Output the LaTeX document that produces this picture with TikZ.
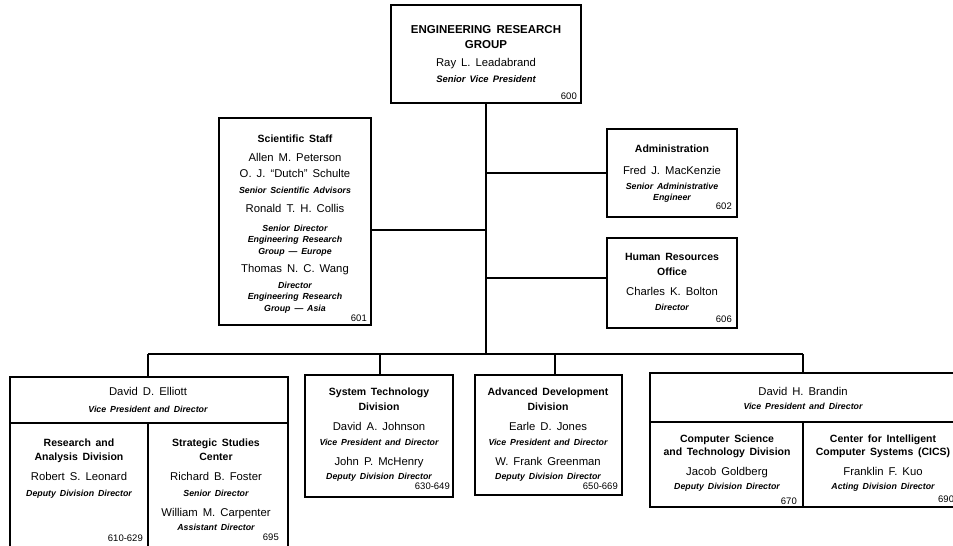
\documentclass[tikz,border=0pt]{standalone}
\usepackage{fontspec}
\setmainfont{Liberation Sans}[WordSpace=1.6]
\begin{document}
\begin{tikzpicture}[x=1pt,y=-1pt,
  box/.style={draw, line width=1.7pt, outer sep=0pt, inner sep=0pt},
  divline/.style={line width=1.5pt},
  conn/.style={line width=1.1pt},
  txt/.style={inner sep=0pt, anchor=mid},
  hd/.style={txt, font=\fontsize{10.5}{12}\selectfont\bfseries},
  bighd/.style={txt, font=\fontsize{11.5}{13}\selectfont\bfseries},
  nm/.style={txt, font=\fontsize{11.3}{13}\selectfont},
  ti/.style={txt, font=\fontsize{8.8}{10}\selectfont\bfseries\itshape},
  bigti/.style={txt, font=\fontsize{9.4}{11}\selectfont\bfseries\itshape},
  num/.style={inner sep=0pt, anchor=mid east, font=\fontsize{9.5}{10}\selectfont},
]
\useasboundingbox (0,0) rectangle (953,546);
\clip (0,0) rectangle (953,546);

% ---- boxes
\node[box, minimum width=190pt, minimum height=98pt] (top) at (486,54) {};
\node[box, minimum width=152pt, minimum height=207pt] (staff) at (295,221.5) {};
\node[box, minimum width=130pt, minimum height=88pt] (admin) at (672,173) {};
\node[box, minimum width=130pt, minimum height=90pt] (hr) at (672,283) {};
\node[box, minimum width=278pt, minimum height=183pt] (elliott) at (149,468.5) {};
\node[box, minimum width=148pt, minimum height=122pt] (systech) at (379,436) {};
\node[box, minimum width=147pt, minimum height=120pt] (advdev) at (548.5,435) {};
\node[box, minimum width=313pt, minimum height=134pt] (brandin) at (806.5,440) {};

% ---- dividers
\coordinate (eh) at (148,423);
\draw[divline] (elliott.west |- eh) -- (elliott.east |- eh);
\draw[divline] (eh) -- (eh |- elliott.south);
\coordinate (bh) at (803,422);
\draw[divline] (brandin.west |- bh) -- (brandin.east |- bh);
\draw[divline] (bh) -- (bh |- brandin.south);

% ---- connectors
\coordinate (bus) at (486,354);
\coordinate (jS) at (486,230);
\coordinate (jA) at (486,173);
\coordinate (jH) at (486,278);
\coordinate (bL) at (148,354);
\coordinate (bS) at (380,354);
\coordinate (bA) at (555,354);
\coordinate (bR) at (803,354);
\draw[conn] (top.south) -- (bus);
\draw[conn] (staff.east |- jS) -- (jS);
\draw[conn] (jA) -- (admin.west |- jA);
\draw[conn] (jH) -- (hr.west |- jH);
\draw[conn] (bL) -- (bR);
\draw[conn] (bL) -- (bL |- elliott.north);
\draw[conn] (bS) -- (bS |- systech.north);
\draw[conn] (bA) -- (bA |- advdev.north);
\draw[conn] (bR) -- (bR |- brandin.north);

% ---- top box text
\node[bighd] (t1) at (486,31) {ENGINEERING RESEARCH};
\node[bighd] (t2) at (486,46) {GROUP};
\node[nm] (t3) at (486,64) {Ray L. Leadabrand};
\node[bigti] (t4) at (486,80) {Senior Vice President};
\node[num] (t5) at (577,97) {600};

% ---- scientific staff
\node[hd] (s1) at (295,140) {Scientific Staff};
\node[nm] (s2) at (295,159) {Allen M. Peterson};
\node[nm] (s3) at (295,175) {O. J. ``Dutch'' Schulte};
\node[ti] (s4) at (295,191) {Senior Scientific Advisors};
\node[nm] (s5) at (295,210) {Ronald T. H. Collis};
\node[ti] (s6) at (295,229) {Senior Director};
\node[ti] (s7) at (295,240) {Engineering Research};
\node[ti] (s8) at (295,252) {Group --- Europe};
\node[nm] (s9) at (295,270) {Thomas N. C. Wang};
\node[ti] (s10) at (295,286) {Director};
\node[ti] (s11) at (295,297) {Engineering Research};
\node[ti] (s12) at (295,309) {Group --- Asia};
\node[num] (s13) at (367,319) {601};

% ---- administration
\node[hd] (a1) at (672,150) {Administration};
\node[nm] (a2) at (672,172) {Fred J. MacKenzie};
\node[ti] (a3) at (672,187) {Senior Administrative};
\node[ti] (a4) at (672,198) {Engineer};
\node[num] (a5) at (732,207) {602};

% ---- human resources
\node[hd] (h1) at (672,258) {Human Resources};
\node[hd] (h2) at (672,273) {Office};
\node[nm] (h3) at (672,293) {Charles K. Bolton};
\node[ti] (h4) at (672,308) {Director};
\node[num] (h5) at (732,320) {606};

% ---- Elliott
\node[nm] (e1) at (148,393) {David D. Elliott};
\node[ti] (e2) at (148,410) {Vice President and Director};
\node[hd] (e3) at (79,444) {Research and};
\node[hd] (e4) at (79,458) {Analysis Division};
\node[nm] (e5) at (79,478) {Robert S. Leonard};
\node[ti] (e6) at (79,494) {Deputy Division Director};
\node[num] (e7) at (143,539) {610-629};
\node[hd] (e8) at (216,444) {Strategic Studies};
\node[hd] (e9) at (216,458) {Center};
\node[nm] (e10) at (216,478) {Richard B. Foster};
\node[ti] (e11) at (216,494) {Senior Director};
\node[nm] (e12) at (216,514) {William M. Carpenter};
\node[ti] (e13) at (216,528) {Assistant Director};
\node[num] (e14) at (279,538) {695};

% ---- System Technology
\node[hd] (y1) at (379,393) {System Technology};
\node[hd] (y2) at (379,408) {Division};
\node[nm] (y3) at (379,428) {David A. Johnson};
\node[ti] (y4) at (379,443) {Vice President and Director};
\node[nm] (y5) at (379,463) {John P. McHenry};
\node[ti] (y6) at (379,477) {Deputy Division Director};
\node[num] (y7) at (450,487) {630-649};

% ---- Advanced Development
\node[hd] (d1) at (548,393) {Advanced Development};
\node[hd] (d2) at (548,408) {Division};
\node[nm] (d3) at (548,428) {Earle D. Jones};
\node[ti] (d4) at (548,443) {Vice President and Director};
\node[nm] (d5) at (548,463) {W. Frank Greenman};
\node[ti] (d6) at (548,477) {Deputy Division Director};
\node[num] (d7) at (618,487) {650-669};

% ---- Brandin
\node[nm] (b1) at (803,393) {David H. Brandin};
\node[ti] (b2) at (803,407) {Vice President and Director};
\node[hd] (b3) at (727,440) {Computer Science};
\node[hd] (b4) at (727,453) {and Technology Division};
\node[nm] (b5) at (727,473) {Jacob Goldberg};
\node[ti] (b6) at (727,487) {Deputy Division Director};
\node[num] (b7) at (797,502) {670};
\node[hd] (b8) at (883,440) {Center for Intelligent};
\node[hd] (b9) at (883,453) {Computer Systems (CICS)};
\node[nm] (b10) at (883,473) {Franklin F. Kuo};
\node[ti] (b11) at (883,487) {Acting Division Director};
\node[num, anchor=mid west] (b12) at (938,500) {690};
\end{tikzpicture}
\end{document}
